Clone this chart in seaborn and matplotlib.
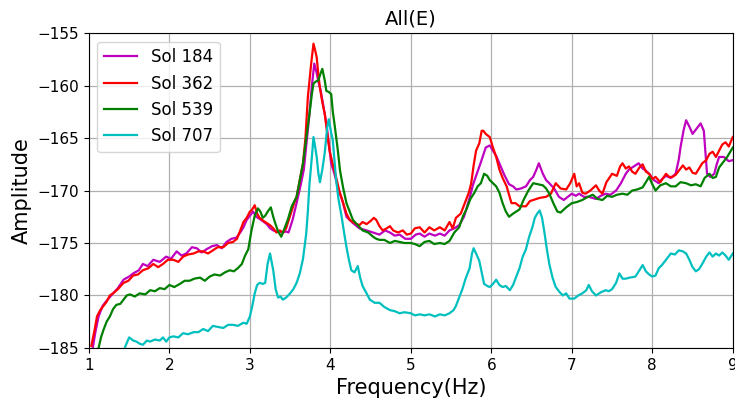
import pandas as pd
import matplotlib
matplotlib.use('Agg')
import matplotlib.pyplot as plt
import seaborn as sns

# Sol 184 (magenta)
sol184_freq = [1.05, 1.08, 1.12, 1.17, 1.22, 1.3, 1.36, 1.43, 1.5, 1.55, 1.62, 1.67, 1.73, 1.8, 1.88,
               1.96, 2.02, 2.09, 2.15, 2.21, 2.28, 2.34, 2.4, 2.46, 2.53, 2.59, 2.65, 2.71, 2.77, 2.83,
               2.88, 2.92, 2.96, 3.0, 3.04, 3.08, 3.14, 3.21, 3.25, 3.29, 3.33, 3.37, 3.41, 3.45, 3.48,
               3.53, 3.58, 3.63, 3.67, 3.71, 3.74, 3.77, 3.8, 3.83, 3.85, 3.88, 3.91, 3.95, 4.01, 4.05,
               4.1, 4.15, 4.2, 4.28, 4.36, 4.45, 4.53, 4.61, 4.68, 4.74, 4.8, 4.86, 4.93, 5.0, 5.06,
               5.11, 5.17, 5.23, 5.3, 5.36, 5.42, 5.48, 5.54, 5.6, 5.66, 5.73, 5.77, 5.81, 5.87, 5.93,
               5.98, 6.02, 6.06, 6.1, 6.16, 6.22, 6.27, 6.31, 6.37, 6.43, 6.48, 6.52, 6.56, 6.59, 6.64,
               6.68, 6.72, 6.78, 6.84, 6.9, 6.95, 7.0, 7.05, 7.09, 7.15, 7.21, 7.3, 7.36, 7.42, 7.48,
               7.55, 7.61, 7.67, 7.71, 7.75, 7.79, 7.83, 7.88, 7.92, 7.96, 8.02, 8.08, 8.12, 8.17, 8.23,
               8.29, 8.33, 8.35, 8.39, 8.42, 8.46, 8.5, 8.54, 8.57, 8.6, 8.64, 8.68, 8.72, 8.77, 8.8,
               8.83, 8.89, 8.95, 9.0]
sol184_amp = [-184.9, -183.5, -182.0, -181.0, -180.5, -179.8, -179.3, -178.5, -178.2, -177.9, -177.6,
              -177.0, -177.2, -176.6, -176.8, -176.3, -176.5, -175.8, -176.2, -176.0, -175.4, -175.5,
              -175.9, -175.6, -175.3, -175.2, -175.5, -174.9, -174.6, -174.5, -174.0, -173.5, -172.8,
              -172.4, -172.0, -172.5, -172.8, -173.2, -173.6, -173.8, -173.9, -173.9, -174.0, -173.9,
              -174.0, -172.8, -171.2, -169.5, -168.0, -165.0, -162.7, -160.0, -157.9, -158.8, -159.6,
              -160.5, -161.8, -163.6, -167.4, -168.4, -169.9, -171.0, -172.5, -173.1, -173.6, -173.8,
              -174.0, -174.2, -173.8, -174.0, -174.3, -174.2, -174.6, -174.6, -174.2, -174.1, -174.4,
              -174.1, -174.3, -174.1, -174.3, -173.8, -173.6, -173.3, -172.5, -170.7, -169.5, -168.6,
              -167.3, -165.9, -165.7, -166.2, -166.7, -167.4, -168.5, -169.4, -169.6, -169.9, -169.8,
              -169.6, -169.0, -168.7, -168.0, -167.4, -168.4, -169.0, -169.3, -169.8, -170.6, -170.9,
              -170.6, -170.3, -170.5, -170.3, -170.6, -170.6, -170.8, -170.5, -170.3, -170.4, -170.0,
              -169.3, -168.4, -168.0, -167.8, -167.6, -167.4, -167.9, -168.1, -168.4, -169.0, -169.3,
              -168.9, -168.6, -168.8, -168.4, -167.0, -165.9, -164.2, -163.3, -163.9, -164.6, -164.2,
              -163.9, -163.6, -164.3, -168.4, -168.7, -168.4, -167.5, -166.8, -166.8, -167.2, -167.1]

# Sol 362 (red)
sol362_freq = [1.03, 1.07, 1.1, 1.14, 1.18, 1.22, 1.26, 1.3, 1.36, 1.43, 1.49, 1.55, 1.61, 1.67, 1.74,
               1.8, 1.86, 1.92, 1.98, 2.05, 2.11, 2.17, 2.23, 2.3, 2.36, 2.42, 2.48, 2.54, 2.6, 2.67,
               2.73, 2.79, 2.84, 2.88, 2.92, 2.96, 3.0, 3.02, 3.06, 3.09, 3.12, 3.17, 3.21, 3.25, 3.29,
               3.33, 3.37, 3.41, 3.45, 3.5, 3.55, 3.58, 3.62, 3.66, 3.69, 3.72, 3.76, 3.79, 3.81, 3.83,
               3.85, 3.87, 3.9, 3.93, 3.96, 3.99, 4.03, 4.07, 4.11, 4.16, 4.2, 4.24, 4.3, 4.36, 4.4,
               4.45, 4.5, 4.54, 4.57, 4.61, 4.65, 4.7, 4.74, 4.78, 4.84, 4.9, 4.95, 5.0, 5.05, 5.11,
               5.17, 5.23, 5.29, 5.36, 5.42, 5.48, 5.52, 5.56, 5.62, 5.67, 5.72, 5.75, 5.78, 5.81, 5.85,
               5.88, 5.9, 5.93, 5.98, 6.02, 6.06, 6.1, 6.14, 6.19, 6.25, 6.3, 6.35, 6.43, 6.48, 6.52,
               6.6, 6.68, 6.74, 6.8, 6.86, 6.93, 6.98, 7.03, 7.06, 7.09, 7.13, 7.17, 7.23, 7.3, 7.34,
               7.38, 7.43, 7.5, 7.56, 7.6, 7.63, 7.67, 7.71, 7.75, 7.79, 7.84, 7.88, 7.92, 7.96, 8.0,
               8.04, 8.1, 8.17, 8.21, 8.25, 8.29, 8.33, 8.38, 8.42, 8.46, 8.5, 8.54, 8.58, 8.62, 8.67,
               8.71, 8.75, 8.79, 8.83, 8.87, 8.91, 8.95, 9.0]
sol362_amp = [-184.8, -183.3, -182.0, -181.4, -181.0, -180.6, -180.0, -179.8, -179.4, -178.8, -178.6,
              -178.1, -178.0, -177.6, -177.4, -177.0, -177.3, -177.0, -176.6, -176.6, -176.8, -176.3,
              -176.1, -176.0, -175.8, -175.8, -176.0, -175.7, -175.4, -175.4, -175.0, -174.9, -174.6,
              -173.8, -173.0, -172.6, -172.0, -171.9, -171.4, -172.2, -172.6, -172.9, -173.1, -173.3,
              -173.6, -174.0, -173.8, -174.0, -173.6, -172.4, -171.2, -170.6, -169.0, -167.4, -165.0,
              -161.1, -158.0, -156.0, -156.6, -157.3, -158.9, -160.2, -161.6, -162.7, -164.5, -166.2,
              -167.5, -168.7, -170.0, -171.2, -172.2, -172.8, -173.1, -173.3, -173.0, -173.2, -172.9,
              -172.6, -172.8, -173.4, -173.8, -173.6, -173.4, -173.8, -174.0, -173.8, -174.2, -174.1,
              -173.6, -173.5, -174.0, -173.5, -173.8, -173.5, -173.8, -173.0, -173.6, -172.6, -172.2,
              -171.2, -170.2, -169.3, -167.6, -166.2, -165.5, -164.3, -164.3, -164.6, -164.9, -165.9,
              -166.8, -168.0, -168.8, -169.6, -171.2, -171.2, -171.5, -171.5, -171.0, -170.9, -170.7,
              -170.6, -170.3, -169.3, -169.8, -169.9, -169.3, -168.4, -169.6, -169.3, -170.2, -170.3,
              -170.0, -169.5, -170.0, -170.3, -169.2, -168.4, -168.6, -167.7, -167.4, -167.9, -167.7,
              -168.2, -168.4, -167.8, -167.5, -168.2, -168.4, -168.9, -168.7, -169.2, -168.4, -168.7,
              -168.7, -168.5, -168.1, -167.6, -168.0, -167.8, -168.3, -168.4, -167.9, -167.4, -167.1,
              -166.5, -166.3, -166.8, -166.2, -165.6, -165.4, -165.8, -164.9]

# Sol 539 (green)
sol539_freq = [1.12, 1.15, 1.18, 1.22, 1.26, 1.3, 1.34, 1.39, 1.43, 1.47, 1.51, 1.57, 1.63, 1.7, 1.76,
               1.82, 1.88, 1.94, 2.0, 2.06, 2.13, 2.19, 2.25, 2.31, 2.38, 2.44, 2.5, 2.56, 2.63, 2.69,
               2.75, 2.8, 2.85, 2.9, 2.94, 2.98, 3.02, 3.06, 3.1, 3.13, 3.16, 3.19, 3.23, 3.26, 3.29,
               3.31, 3.35, 3.39, 3.43, 3.47, 3.52, 3.58, 3.62, 3.66, 3.7, 3.74, 3.77, 3.79, 3.82, 3.85,
               3.88, 3.9, 3.93, 3.95, 3.98, 4.01, 4.03, 4.05, 4.09, 4.12, 4.16, 4.2, 4.24, 4.28, 4.34,
               4.4, 4.47, 4.53, 4.57, 4.61, 4.67, 4.74, 4.8, 4.86, 4.92, 5.0, 5.05, 5.11, 5.17, 5.23,
               5.29, 5.36, 5.42, 5.48, 5.54, 5.6, 5.65, 5.69, 5.74, 5.79, 5.83, 5.87, 5.91, 5.95, 5.98,
               6.02, 6.06, 6.1, 6.14, 6.18, 6.22, 6.27, 6.31, 6.35, 6.4, 6.46, 6.52, 6.58, 6.64, 6.68,
               6.72, 6.77, 6.82, 6.86, 6.93, 7.0, 7.06, 7.13, 7.2, 7.26, 7.32, 7.38, 7.44, 7.5, 7.56,
               7.63, 7.69, 7.75, 7.81, 7.88, 7.92, 7.96, 8.0, 8.04, 8.1, 8.17, 8.23, 8.29, 8.35, 8.42,
               8.48, 8.54, 8.6, 8.65, 8.71, 8.75, 8.79, 8.83, 8.87, 8.93, 9.0]
sol539_amp = [-185.0, -184.0, -183.3, -182.5, -182.0, -181.3, -180.9, -180.8, -180.4, -180.0, -179.9,
              -180.1, -179.8, -179.9, -179.5, -179.6, -179.3, -179.4, -179.0, -179.2, -178.9, -178.6,
              -178.6, -178.4, -178.3, -178.6, -178.2, -178.0, -178.1, -177.8, -177.6, -177.7, -177.4,
              -177.0, -176.2, -175.6, -173.8, -172.4, -171.7, -172.0, -172.6, -172.4, -171.9, -171.6,
              -172.5, -173.0, -173.9, -174.4, -173.6, -172.8, -171.5, -170.6, -169.0, -167.4, -165.0,
              -162.7, -160.8, -159.8, -159.6, -159.5, -158.8, -158.4, -159.5, -160.5, -160.6, -160.8,
              -162.5, -163.6, -166.0, -168.1, -169.8, -171.2, -172.0, -172.8, -173.3, -173.8, -174.0,
              -174.4, -174.6, -174.7, -174.7, -175.0, -174.8, -174.9, -175.0, -175.0, -175.1, -175.3,
              -174.9, -174.8, -175.1, -175.0, -175.1, -174.8, -174.0, -173.5, -172.4, -171.8, -170.8,
              -170.2, -169.6, -169.3, -168.4, -168.6, -169.0, -169.3, -169.6, -170.2, -171.2, -172.0,
              -172.5, -172.2, -172.0, -171.8, -170.9, -170.0, -169.3, -169.4, -169.5, -169.8, -170.3,
              -171.2, -172.0, -172.1, -171.6, -171.2, -171.1, -170.9, -170.6, -170.4, -170.8, -170.9,
              -170.5, -170.6, -170.4, -170.3, -170.4, -170.0, -169.9, -169.7, -169.2, -168.7, -169.4,
              -170.0, -169.5, -169.3, -169.6, -169.6, -169.2, -169.3, -169.5, -169.4, -169.6, -168.8,
              -168.4, -168.8, -168.7, -167.8, -167.4, -166.8, -165.9]

# Sol 707 (cyan)
sol707_freq = [1.45, 1.5, 1.55, 1.59, 1.63, 1.67, 1.72, 1.76, 1.82, 1.88, 1.92, 1.96, 2.0, 2.05, 2.11,
               2.17, 2.23, 2.3, 2.36, 2.42, 2.48, 2.54, 2.6, 2.67, 2.73, 2.79, 2.85, 2.92, 2.96, 3.0,
               3.03, 3.06, 3.09, 3.12, 3.16, 3.19, 3.22, 3.25, 3.27, 3.29, 3.32, 3.35, 3.38, 3.41, 3.45,
               3.5, 3.54, 3.58, 3.62, 3.66, 3.7, 3.72, 3.74, 3.77, 3.79, 3.81, 3.83, 3.85, 3.87, 3.9,
               3.93, 3.96, 3.98, 4.01, 4.03, 4.05, 4.07, 4.1, 4.14, 4.17, 4.2, 4.23, 4.26, 4.3, 4.34,
               4.37, 4.4, 4.45, 4.49, 4.55, 4.61, 4.67, 4.74, 4.8, 4.86, 4.92, 5.0, 5.05, 5.11, 5.17,
               5.23, 5.3, 5.36, 5.42, 5.48, 5.53, 5.56, 5.6, 5.64, 5.68, 5.73, 5.76, 5.78, 5.81, 5.85,
               5.88, 5.91, 5.95, 5.98, 6.02, 6.06, 6.1, 6.14, 6.18, 6.23, 6.27, 6.31, 6.35, 6.39, 6.43,
               6.47, 6.51, 6.54, 6.57, 6.6, 6.63, 6.66, 6.69, 6.72, 6.76, 6.8, 6.85, 6.89, 6.93, 6.97,
               7.03, 7.08, 7.13, 7.18, 7.21, 7.25, 7.3, 7.36, 7.42, 7.46, 7.5, 7.55, 7.59, 7.63, 7.67,
               7.72, 7.79, 7.84, 7.88, 7.92, 7.96, 8.0, 8.04, 8.08, 8.12, 8.17, 8.23, 8.28, 8.33, 8.38,
               8.42, 8.46, 8.5, 8.54, 8.58, 8.62, 8.67, 8.71, 8.75, 8.79, 8.83, 8.87, 8.91, 8.95, 9.0]
sol707_amp = [-184.9, -184.0, -184.3, -184.4, -184.6, -184.7, -184.3, -184.4, -184.2, -184.3, -184.0,
              -184.4, -184.0, -183.9, -184.0, -183.6, -183.7, -183.5, -183.5, -183.2, -183.4, -182.9,
              -183.0, -183.1, -182.8, -182.8, -182.9, -182.6, -182.7, -182.0, -181.0, -179.8, -179.0,
              -178.8, -178.9, -178.8, -177.0, -176.0, -176.8, -177.6, -179.4, -180.2, -180.1, -180.4,
              -180.2, -179.8, -179.4, -178.8, -177.9, -176.5, -174.1, -172.0, -169.4, -166.8, -164.9,
              -165.8, -166.8, -168.3, -169.2, -168.0, -166.4, -164.0, -163.2, -164.5, -165.2, -167.0,
              -168.9, -170.8, -172.5, -174.0, -175.4, -176.6, -177.6, -177.8, -177.2, -178.3, -179.1,
              -179.8, -180.4, -180.7, -180.7, -181.1, -181.4, -181.5, -181.7, -181.6, -181.7, -181.9,
              -181.8, -181.9, -181.8, -182.0, -181.8, -181.9, -181.7, -181.4, -181.0, -180.2, -179.4,
              -178.4, -177.4, -176.0, -175.5, -176.0, -176.7, -177.8, -178.9, -179.1, -179.2, -178.9,
              -178.5, -179.0, -179.2, -179.1, -179.5, -179.0, -178.2, -177.4, -176.3, -175.6, -174.4,
              -173.5, -172.6, -172.2, -171.9, -172.6, -174.0, -175.6, -177.0, -178.3, -179.2, -179.7,
              -180.0, -179.8, -180.3, -180.3, -180.0, -179.8, -179.5, -179.0, -179.6, -180.0, -179.7,
              -179.5, -179.6, -179.4, -178.8, -177.9, -178.4, -178.4, -178.3, -178.2, -177.6, -177.1,
              -177.7, -178.0, -178.2, -178.1, -177.4, -177.1, -176.6, -176.0, -176.1, -175.7, -175.8,
              -176.0, -176.6, -177.3, -177.7, -177.5, -177.0, -176.3, -175.9, -176.3, -176.0, -176.2,
              -175.9, -176.2, -176.6, -176.0]

labels = ['Sol 184', 'Sol 362', 'Sol 539', 'Sol 707']
colors = ['m', 'r', 'g', 'c']

frames = []
for name, f, a in zip(labels,
                      [sol184_freq, sol362_freq, sol539_freq, sol707_freq],
                      [sol184_amp, sol362_amp, sol539_amp, sol707_amp]):
    frames.append(pd.DataFrame({'freq': f, 'amp': a, 'sol': name}))
df = pd.concat(frames, ignore_index=True)

fig, ax = plt.subplots(figsize=(7.35, 4.05), dpi=100)
fig.subplots_adjust(left=0.121, right=0.997, top=0.918, bottom=0.141)

sns.lineplot(data=df, x='freq', y='amp', hue='sol', palette=dict(zip(labels, colors)),
             estimator=None, sort=False, linewidth=1.6, ax=ax)

ax.set_xlim(1, 9)
ax.set_ylim(-185, -155)
ax.set_xticks(range(1, 10))
ax.set_yticks(range(-185, -154, 5))
ax.tick_params(labelsize=11)
ax.grid(True, color='#b0b0b0', linewidth=0.9)

ax.set_title('All(E)', fontsize=14)
ax.set_xlabel('Frequency(Hz)', fontsize=15)
ax.set_ylabel('Amplitude', fontsize=15)
ax.legend(loc='upper left', fontsize=12, handlelength=2.0)

plt.savefig('out.png', dpi=100)
